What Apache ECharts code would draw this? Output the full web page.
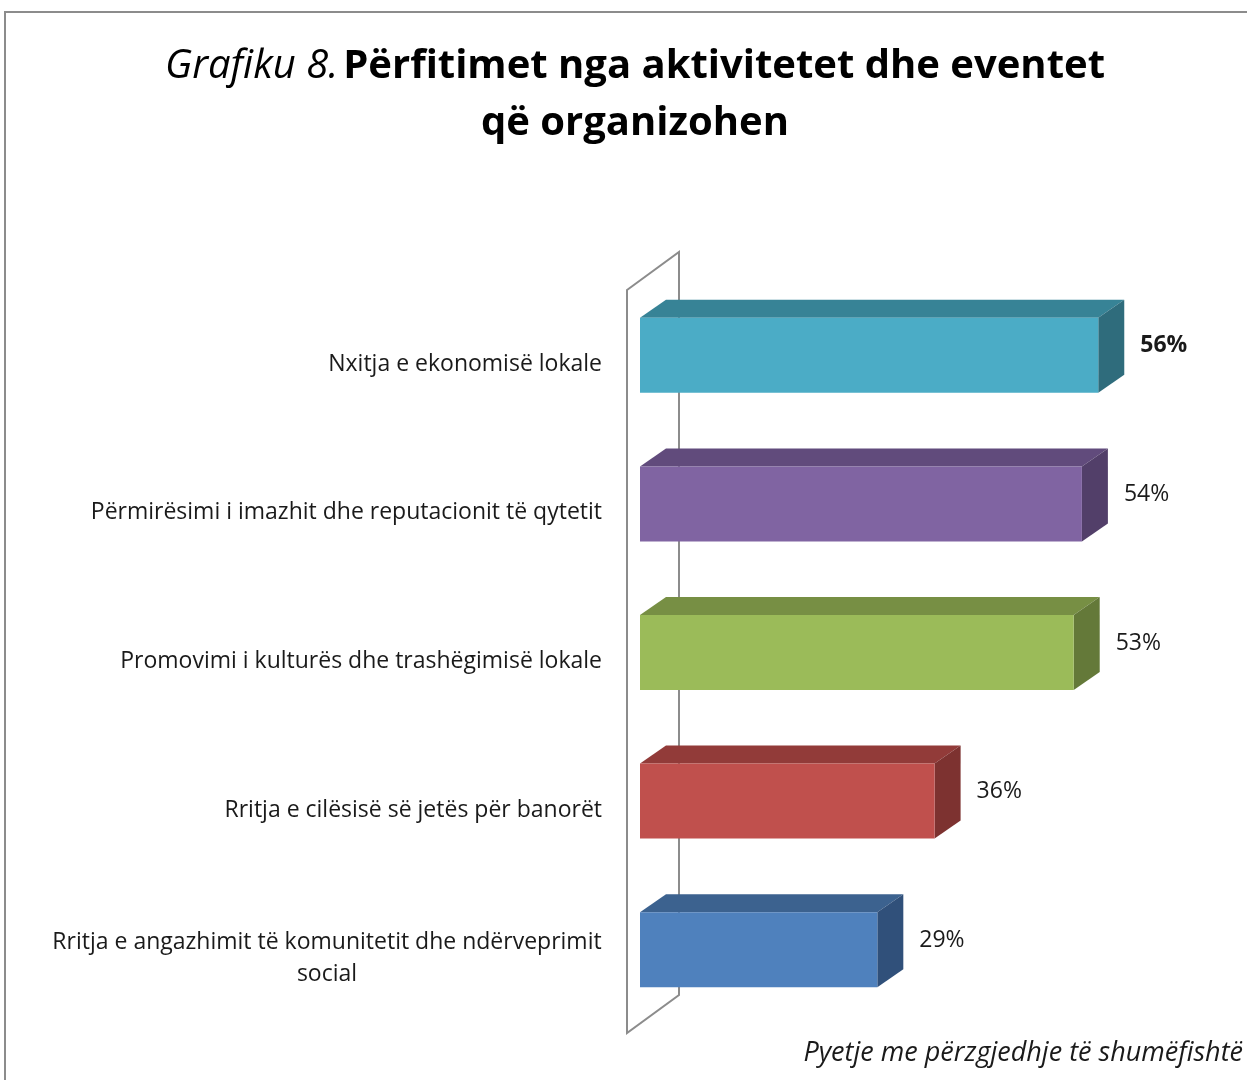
<!DOCTYPE html>
<html>
<head>
    <meta charset="utf-8">
    <title>Grafiku 8</title>
    <script src="https://cdn.jsdelivr.net/npm/echarts@6/dist/echarts.min.js"></script>
    <style>
        html, body { margin: 0; padding: 0; background: #fff; }
    </style>
</head>
<body>
<div id="chartmain" style="width:1247px; height:1080px;"></div>
<script>
    // te dhenat
    var categories = [
        'Nxitja e ekonomisë lokale',
        'Përmirësimi i imazhit dhe reputacionit të qytetit',
        'Promovimi i kulturës dhe trashëgimisë lokale',
        'Rritja e cilësisë së jetës për banorët',
        'Rritja e angazhimit të komunitetit dhe ndërveprimit\nsocial'
    ];
    var values = [56, 54, 53, 36, 29];
    var boldLabel = [true, false, false, false, false];

    // ngjyrat: para, siper, anash
    var frontColors = ['#4bacc6', '#8064a2', '#9bbb59', '#c0504d', '#4f81bd'];
    var topColors = ['#378396', '#614b7c', '#778f44', '#923b39', '#3c628f'];
    var sideColors = ['#2f6c7c', '#523f69', '#647939', '#7d3230', '#30507a'];

    var FONT = '"Open Sans"';
    var LBL = 23;
    var FX = 13, FY = 9;    // zhvendosja e fytyres se shiritit nga muri
    var DX = 26, DY = 18;   // thellesia e shiritit
    var WX = 52, WY = 38;   // thellesia e murit

    // gjeresia e rreshtit me te gjate, per te qendruar "social"
    var ctx = document.createElement('canvas').getContext('2d');
    ctx.font = LBL + 'px ' + FONT;
    var lastW = Math.ceil(ctx.measureText(categories[4].split('\n')[0]).width);

    function renderBar(params, api) {
        var i = params.dataIndex;
        var v = api.value(0), c = api.value(1);
        var p0 = api.coord([0, c]);
        var p1 = api.coord([v, c]);
        var band = api.size([0, 1])[1];
        var h = band * 0.505;
        var x0 = p0[0] + FX, x1 = p1[0] + FX;
        var yc = p0[1] - FY;
        var t = yc - h / 2, b = yc + h / 2;
        return {
            type: 'group',
            children: [
                {type: 'polygon', shape: {points: [[x0, t], [x0 + DX, t - DY], [x1 + DX, t - DY], [x1, t]]},
                    style: {fill: topColors[i]}},
                {type: 'polygon', shape: {points: [[x1, t], [x1 + DX, t - DY], [x1 + DX, b - DY], [x1, b]]},
                    style: {fill: sideColors[i]}},
                {type: 'rect', shape: {x: x0, y: t, width: x1 - x0, height: h},
                    style: {fill: frontColors[i]}},
                {type: 'text', x: x1 + DX + 16, y: yc - 9.5,
                    style: {text: v + '%', fontSize: LBL, fontFamily: FONT, fill: '#1a1a1a',
                        fontWeight: boldLabel[i] ? 'bold' : 'normal', verticalAlign: 'middle', align: 'left'}}
            ]
        };
    }

    function renderWall(params, api) {
        var cs = params.coordSys;
        var L = cs.x, T = cs.y, B = cs.y + cs.height;
        return {
            type: 'polygon',
            shape: {points: [[L, T], [L + WX, T - WY], [L + WX, B - WY], [L, B]]},
            style: {fill: '#fff', stroke: '#8c8c8c', lineWidth: 2}
        };
    }

    var barData = values.map(function (v, i) { return [v, i]; });

    var myChart = echarts.init(document.getElementById('chartmain'));
    var option = {
        backgroundColor: '#fff',
        animation: false,
        title: {
            left: 630,
            top: 33,
            textAlign: 'center',
            text: '{i|Grafiku 8.} {b|Përfitimet nga aktivitetet dhe eventet}\n{b|që organizohen}',
            textStyle: {
                rich: {
                    i: {fontSize: 40, fontStyle: 'italic', fontWeight: 'normal', fontFamily: FONT, color: '#000', lineHeight: 57},
                    b: {fontSize: 40, fontWeight: 'bold', fontFamily: FONT, color: '#000', lineHeight: 57}
                }
            }
        },
        grid: {left: 627, top: 290, width: 491, height: 743},
        xAxis: {
            type: 'value', min: 0, max: 60, show: false
        },
        yAxis: {
            type: 'category',
            inverse: true,
            data: categories,
            axisLine: {show: false},
            axisTick: {show: false},
            axisLabel: {
                margin: 25,
                fontSize: LBL,
                fontFamily: FONT,
                color: '#1a1a1a',
                lineHeight: 32,
                formatter: function (val) {
                    if (val.indexOf('\n') >= 0) {
                        return val.split('\n').map(function (s) { return '{c|' + s + '}'; }).join('\n');
                    }
                    return val;
                },
                rich: {
                    c: {width: lastW, align: 'center', fontSize: LBL, fontFamily: FONT, color: '#1a1a1a', lineHeight: 32}
                }
            }
        },
        series: [
            {type: 'custom', renderItem: renderWall, data: [[0, 0]], z: 1, silent: true},
            {type: 'custom', renderItem: renderBar, data: barData, encode: {x: 0, y: 1}, z: 2}
        ],
        graphic: [
            {type: 'rect', shape: {x: 5, y: 12, width: 1260, height: 1100},
                style: {fill: 'none', stroke: '#8c8c8c', lineWidth: 2}, z: 0},
            {type: 'text', right: 4, top: 1040,
                style: {text: 'Pyetje me përzgjedhje të shumëfishtë', fontSize: 27, fontStyle: 'italic',
                    fontFamily: FONT, fill: '#1a1a1a'}}
        ]
    };
    myChart.setOption(option);
</script>
</body>
</html>
